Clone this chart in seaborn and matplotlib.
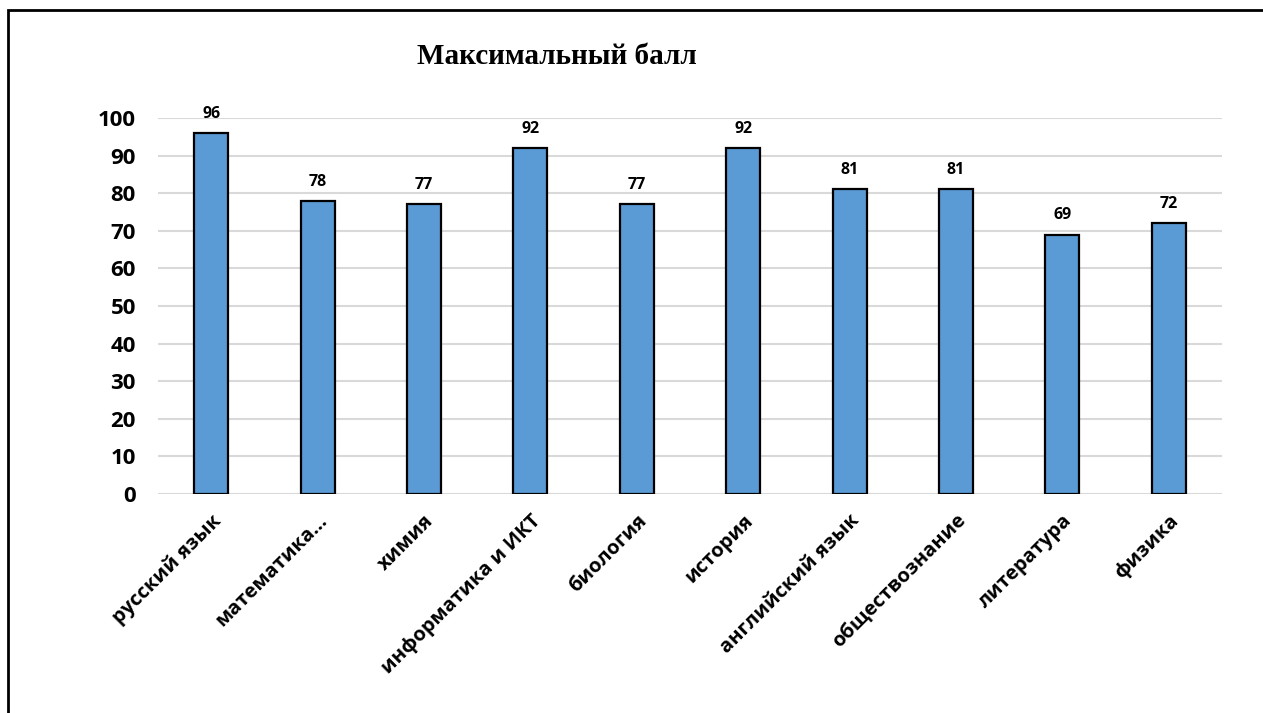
import numpy as np
import pandas as pd
import matplotlib.pyplot as plt
import seaborn as sns
from matplotlib.patches import Rectangle

subjects = ["русский язык", "математика...", "химия", "информатика и ИКТ", "биология",
            "история", "английский язык", "обществознание", "литература", "физика"]
max_scores = [96, 78, 77, 92, 77, 92, 81, 81, 69, 72]

df = pd.DataFrame({"subject": subjects, "score": max_scores})

sns.set_theme(style="white")
plt.rcParams['font.family'] = ['Open Sans', 'DejaVu Sans']
plt.rcParams['text.color'] = 'black'
plt.rcParams['xtick.color'] = 'black'
plt.rcParams['ytick.color'] = 'black'

fig = plt.figure(figsize=(12.63, 7.13), dpi=100)
ax = fig.add_axes([158 / 1263, 1 - 494 / 713, (1222 - 158) / 1263, (494 - 118) / 713])

sns.barplot(data=df, x="subject", y="score", color="#5B9BD5", width=0.32,
            edgecolor="black", linewidth=1.6, saturation=1, ax=ax)

ax.set_ylim(0, 100)
ax.set_yticks(np.arange(0, 101, 10))
ax.set_xlim(-0.5, len(subjects) - 0.5)
ax.yaxis.grid(True, color="#D9D9D9", linewidth=1.5)
ax.set_axisbelow(True)
for s in ax.spines.values():
    s.set_visible(False)
ax.set_xlabel("")
ax.set_ylabel("")
ax.tick_params(axis="both", length=0)
ax.tick_params(axis="y", labelsize=16, pad=16)
for lbl in ax.get_yticklabels():
    lbl.set_fontweight("bold")

ax.set_xticks(range(len(subjects)))
ax.set_xticklabels(subjects, rotation=45, ha="right", rotation_mode="anchor",
                   fontsize=14.5, fontweight="bold")
ax.tick_params(axis="x", pad=12)

for i, v in enumerate(max_scores):
    ax.annotate(str(v), (i, v), xytext=(0, 8), textcoords="offset points",
                ha="center", va="bottom", fontsize=11.5, fontweight="bold")

fig.text(557 / 1263, 1 - 56 / 713, "Максимальный балл", ha="center", va="center",
         fontsize=21, fontweight="bold", family="Liberation Serif")

# border around the chart
fig.patches.append(Rectangle((8 / 1263, -0.1), 1.2, 1 - 10 / 713 + 0.1,
                             transform=fig.transFigure, fill=False,
                             edgecolor="black", linewidth=2))

fig.savefig("out.png", dpi=100)
